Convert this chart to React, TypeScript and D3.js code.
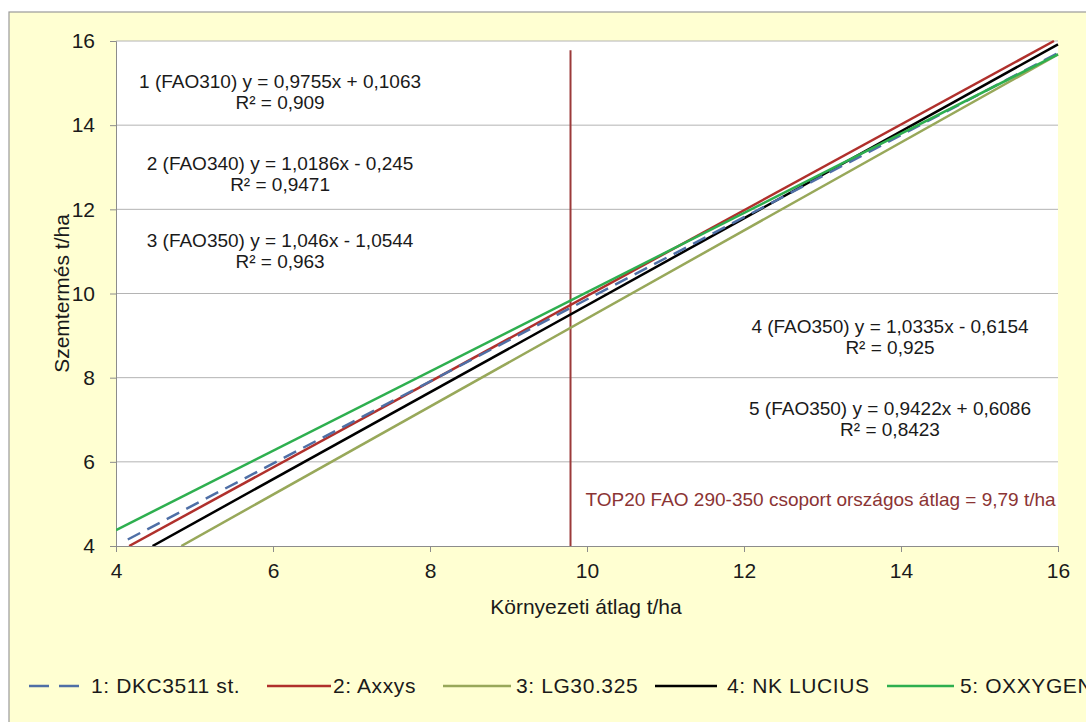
import React, { useEffect, useRef } from "react";
import * as d3 from "d3";

const W = 1086;
const H = 722;

// Trend lines: y = slope * x + intercept
const seriesNames = ["1: DKC3511 st.", "2: Axxys", "3: LG30.325", "4: NK LUCIUS", "5: OXXYGEN"];
const slopes = [0.9755, 1.0186, 1.046, 1.0335, 0.9422];
const intercepts = [0.1063, -0.245, -1.0544, -0.6154, 0.6086];
const rSquared = ["0,909", "0,9471", "0,963", "0,925", "0,8423"];
const eqLabels = [
  "1 (FAO310) y = 0,9755x + 0,1063",
  "2 (FAO340) y = 1,0186x - 0,245",
  "3 (FAO350) y = 1,046x - 1,0544",
  "4 (FAO350) y = 1,0335x - 0,6154",
  "5 (FAO350) y = 0,9422x + 0,6086",
];
const lineStart = [4.15, 4, 4, 4, 4];
const lineEnd = [16, 16, 16, 16, 16];
const colors = ["#4f6fa6", "#b0302c", "#98a85a", "#000000", "#2eaf4f"];
const dashes = ["14,8", null, null, null, null];

const xTicks = [4, 6, 8, 10, 12, 14, 16];
const yTicks = [4, 6, 8, 10, 12, 14, 16];

const avgValue = 9.79;
const avgTop = 15.78;
const avgLabel = "TOP20 FAO 290-350 csoport országos átlag = 9,79 t/ha";

const xTitle = "Környezeti átlag t/ha";
const yTitle = "Szemtermés t/ha";

// Label anchor centres, in data units
const eqPos: [number, number][] = [
  [6.09, 15.05],
  [6.09, 13.1],
  [6.09, 11.26],
  [13.86, 9.22],
  [13.86, 7.26],
];
const avgLabelPos: [number, number] = [15.97, 5.12];

const FONT = "'Liberation Sans', Arial, sans-serif";
const TEXT = "#1a1a1a";

export default function App() {
  const ref = useRef<SVGSVGElement | null>(null);

  useEffect(() => {
    const svg = d3.select(ref.current);
    svg.selectAll("*").remove();

    const left = 116, right = 1058, top = 41, bottom = 546;
    const x = d3.scaleLinear().domain([4, 16]).range([left, right]);
    const y = d3.scaleLinear().domain([4, 16]).range([bottom, top]);

    // outer panel
    svg.append("rect").attr("x", 0).attr("y", 0).attr("width", W).attr("height", H).attr("fill", "#ffffff");
    svg.append("rect").attr("x", 9).attr("y", 12).attr("width", W + 20).attr("height", H + 20)
      .attr("fill", "#ffffd2").attr("stroke", "#9a9a9a").attr("stroke-width", 1.2);

    // plot area
    svg.append("rect").attr("x", left).attr("y", top).attr("width", right - left).attr("height", bottom - top)
      .attr("fill", "#ffffff");

    // grid
    svg.append("g").selectAll("line").data(yTicks.filter((t) => t > 4)).join("line")
      .attr("x1", left).attr("x2", right).attr("y1", (d) => y(d)).attr("y2", (d) => y(d))
      .attr("stroke", "#b4b4b4").attr("stroke-width", 1);

    // axes
    const yAxis = d3.axisLeft(y).tickValues(yTicks).tickSize(6).tickFormat((d) => String(d));
    const gy = svg.append("g").attr("transform", `translate(${left},0)`).call(yAxis);
    gy.select(".domain").attr("stroke", "#8c8c8c");
    gy.selectAll(".tick line").attr("stroke", "#8c8c8c");
    gy.selectAll(".tick text").attr("font-family", FONT).attr("font-size", 21).attr("fill", TEXT)
      .attr("x", -21);

    const xAxis = d3.axisBottom(x).tickValues(xTicks).tickSize(6).tickFormat((d) => String(d));
    const gx = svg.append("g").attr("transform", `translate(0,${bottom})`).call(xAxis);
    gx.select(".domain").attr("stroke", "#8c8c8c");
    gx.selectAll(".tick line").attr("stroke", "#8c8c8c");
    gx.selectAll(".tick text").attr("font-family", FONT).attr("font-size", 21).attr("fill", TEXT)
      .attr("y", 17);

    // clip
    svg.append("clipPath").attr("id", "plotclip").append("rect")
      .attr("x", left).attr("y", top - 2).attr("width", right - left + 2).attr("height", bottom - top + 2);

    const lines = svg.append("g").attr("clip-path", "url(#plotclip)");
    const line = d3.line<[number, number]>().x((d) => x(d[0])).y((d) => y(d[1]));
    // vertical average marker
    lines.append("path")
      .attr("d", line([[avgValue, 4], [avgValue, avgTop]]))
      .attr("stroke", "#9b3a3a").attr("stroke-width", 2).attr("fill", "none");

    const order = [2, 3, 1, 0, 4];
    order.forEach((i) => {
      const x0 = Math.max(lineStart[i], (4 - intercepts[i]) / slopes[i]);
      const x1 = Math.min(lineEnd[i], (16 - intercepts[i]) / slopes[i]);
      const p = lines.append("path")
        .attr("d", line([[x0, slopes[i] * x0 + intercepts[i]], [x1, slopes[i] * x1 + intercepts[i]]]))
        .attr("stroke", colors[i]).attr("stroke-width", 2.5).attr("fill", "none");
      if (dashes[i]) p.attr("stroke-dasharray", dashes[i] as string);
    });

    // equation labels
    eqLabels.forEach((lab, i) => {
      const g = svg.append("g").attr("font-family", FONT).attr("font-size", 19).attr("fill", TEXT)
        .attr("text-anchor", "middle");
      g.append("text").attr("x", x(eqPos[i][0])).attr("y", y(eqPos[i][1])).attr("dy", "0.35em").text(lab);
      g.append("text").attr("x", x(eqPos[i][0])).attr("y", y(eqPos[i][1]) + 21).attr("dy", "0.35em")
        .text(`R² = ${rSquared[i]}`);
    });

    svg.append("text").attr("x", x(avgLabelPos[0])).attr("y", y(avgLabelPos[1])).attr("dy", "0.35em")
      .attr("text-anchor", "end").attr("font-family", FONT).attr("font-size", 19)
      .attr("fill", "#8b3434").text(avgLabel);

    // axis titles
    svg.append("text").attr("x", 586).attr("y", 607).attr("dy", "0.35em")
      .attr("text-anchor", "middle").attr("font-family", FONT).attr("font-size", 21).attr("fill", TEXT)
      .text(xTitle);
    svg.append("text").attr("transform", `translate(62,${(top + bottom) / 2}) rotate(-90)`).attr("dy", "0.35em")
      .attr("text-anchor", "middle").attr("font-family", FONT).attr("font-size", 21).attr("fill", TEXT)
      .text(yTitle);

    // legend
    const legLineX = [29, 267, 443, 655, 887];
    const legLineW = [55, 64, 68, 62, 67];
    const legTextX = [91, 333, 516, 727, 960];
    const legY = 686;
    seriesNames.forEach((name, i) => {
      const g = svg.append("g");
      const ln = g.append("line").attr("x1", legLineX[i]).attr("x2", legLineX[i] + legLineW[i])
        .attr("y1", legY).attr("y2", legY)
        .attr("stroke", colors[i]).attr("stroke-width", 2.5);
      if (dashes[i]) ln.attr("stroke-dasharray", "20,10");
      g.append("text").attr("x", legTextX[i]).attr("y", legY).attr("dy", "0.35em")
        .attr("font-family", FONT).attr("font-size", 21).attr("letter-spacing", 0.6)
        .attr("fill", TEXT).text(name);
    });
  }, []);

  return (
    <svg ref={ref} width={W} height={H} style={{ position: "absolute", left: 0, top: 0, display: "block" }} />
  );
}
